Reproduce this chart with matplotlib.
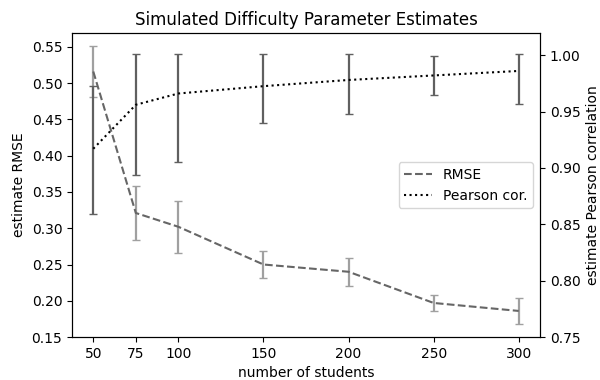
import matplotlib
matplotlib.use("Agg")
import matplotlib.pyplot as plt
import numpy as np

students = [50, 75, 100, 150, 200, 250, 300]

rmse = [0.516, 0.321, 0.302, 0.250, 0.240, 0.197, 0.186]
rmse_err = [0.035, 0.037, 0.036, 0.019, 0.019, 0.011, 0.018]

pearson = [0.917, 0.956, 0.966, 0.9725, 0.978, 0.982, 0.986]
pearson_lo = [0.859, 0.894, 0.905, 0.940, 0.948, 0.965, 0.957]
pearson_hi = [0.973, 1.001, 1.001, 1.001, 1.001, 0.999, 1.001]

fig = plt.figure(figsize=(6, 3.8), dpi=100)
ax = fig.add_axes([0.12, 0.113, 0.78, 0.8])

# RMSE on the left axis
ax.errorbar(students, rmse, yerr=rmse_err, fmt="none", ecolor="#a0a0a0",
            elinewidth=1.6, capsize=3)
l1, = ax.plot(students, rmse, ls="--", color="#666666", lw=1.5, label="RMSE")
ax.set_ylim(0.15, 0.569)
ax.set_yticks(np.arange(0.15, 0.56, 0.05))
ax.set_xticks(students)
ax.set_xlabel("number of students")
ax.set_ylabel("estimate RMSE")
ax.set_title("Simulated Difficulty Parameter Estimates")

# Pearson correlation on the right axis
ax2 = ax.twinx()
err = [np.array(pearson) - np.array(pearson_lo), np.array(pearson_hi) - np.array(pearson)]
ax2.errorbar(students, pearson, yerr=err, fmt="none", ecolor="#606060",
             elinewidth=1.6, capsize=3)
l2, = ax2.plot(students, pearson, ls=":", color="black", lw=1.5, label="Pearson cor.")
ax2.set_ylim(0.75, 1.0196)
ax2.set_ylabel("estimate Pearson correlation")

ax2.legend(handles=[l1, l2], loc="center right")

fig.savefig("out.png")
